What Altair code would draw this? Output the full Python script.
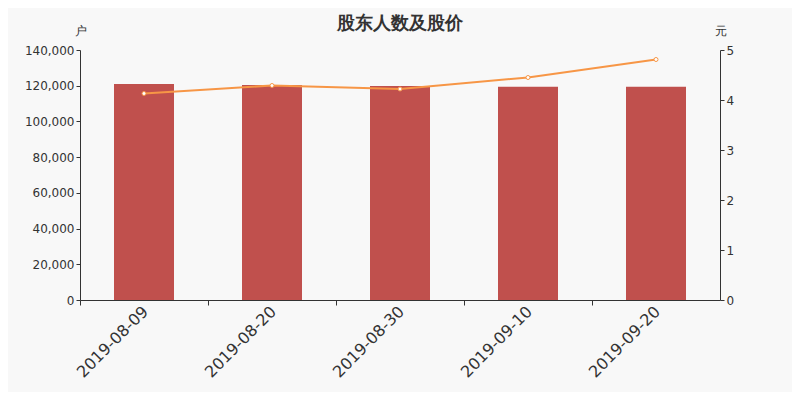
import altair as alt
import pandas as pd

dates = ["2019-08-09", "2019-08-20", "2019-08-30", "2019-09-10", "2019-09-20"]
holders = [120960, 120400, 119840, 119460, 119460]
prices = [4.13, 4.29, 4.22, 4.45, 4.81]

df = pd.DataFrame({"date": dates, "holders": holders, "price": prices})

FONT = "DejaVu Sans"

x_enc = alt.X(
    "date:N",
    sort=dates,
    scale=alt.Scale(paddingInner=0, paddingOuter=0),
    axis=alt.Axis(
        title=None,
        labelAngle=-45,
        labelFontSize=16,
        labelColor="#333333",
        labelFont=FONT,
        bandPosition=0,
        labelOffset=-4,
        tickSize=5,
        tickColor="#333333",
        domainColor="#333333",
        labelPadding=-2,
    ),
)

bars = alt.Chart(df).mark_bar(color="#c0504d", size=60).encode(
    x=x_enc,
    y=alt.Y(
        "holders:Q",
        scale=alt.Scale(domain=[0, 140000]),
        axis=alt.Axis(
            title="户",
            titleAngle=0,
            titleX=0,
            titleY=-20,
            titleAlign="center",
            titleBaseline="middle",
            titleFontSize=12,
            titleFontWeight="normal",
            titleColor="#333333",
            titleFont=FONT,
            values=[0, 20000, 40000, 60000, 80000, 100000, 120000, 140000],
            format=",.0f",
            labelFontSize=12,
            labelColor="#333333",
            labelFont=FONT,
            tickSize=4,
            tickColor="#333333",
            domainColor="#333333",
            grid=False,
        ),
    ),
)

price_axis = alt.Axis(
    title="元",
    orient="right",
    titleAngle=0,
    titleX=0,
    titleY=-20,
    titleAlign="center",
    titleBaseline="middle",
    titleFontSize=12,
    titleFontWeight="normal",
    titleColor="#333333",
    titleFont=FONT,
    values=[0, 1, 2, 3, 4, 5],
    labelFontSize=12,
    labelColor="#333333",
    labelFont=FONT,
    tickSize=4,
    tickColor="#333333",
    domainColor="#333333",
    grid=False,
)

line = alt.Chart(df).mark_line(
    color="#f79646",
    strokeWidth=2,
    point=alt.OverlayMarkDef(
        filled=True, fill="white", stroke="#f79646", strokeWidth=1, size=16, opacity=1
    ),
).encode(
    x=alt.X("date:N", sort=dates),
    y=alt.Y("price:Q", scale=alt.Scale(domain=[0, 5]), axis=price_axis),
)

chart = (
    alt.layer(bars, line)
    .resolve_scale(y="independent")
    .properties(
        width=640,
        height=250,
        background="#f8f8f8",
        padding={"left": 72, "top": 42, "right": 72, "bottom": 92},
        autosize=alt.AutoSizeParams(type="none"),
        title=alt.TitleParams(
            "股东人数及股价",
            fontSize=18,
            fontWeight="bold",
            color="#333333",
            font=FONT,
            anchor="middle",
            offset=-9,
        ),
    )
    .configure_view(stroke=None)
)

chart.save("out.html", embed_options={"renderer": "svg", "actions": False})
